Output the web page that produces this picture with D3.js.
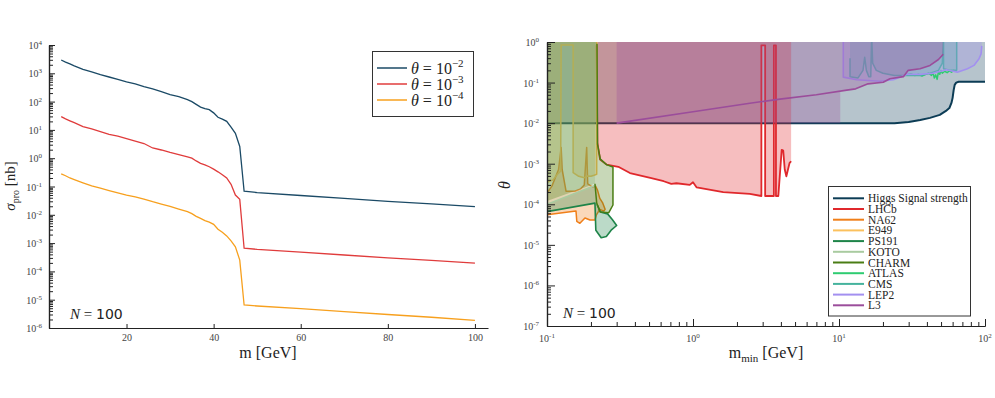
<!DOCTYPE html>
<html>
<head>
<meta charset="utf-8">
<script src="https://cdn.jsdelivr.net/npm/d3@7"></script>
<style>
  body { margin: 0; background: #fff; }
  svg text { font-family: "Liberation Serif", "DejaVu Serif", serif; }
</style>
</head>
<body>
<div id="chart"></div>
<script>
// ---------- left panel: production cross section ----------
const massPoints = [5,6,7,8,10,12,14,16,18,20,22,24,26,28,30,32,34,35,36,37,38,39,40,41,42,43,44,45,46,47,50,60,70,80,90,100];
const sigmaTheta2 = [2950,2500,2150,1820,1380,1120,890,740,615,500,420,335,280,225,178,150,118,100,80,64,56,52,40,28,24,20,12.5,7.6,2.6,0.068,0.061,0.048,0.038,0.030,0.0245,0.0195];
const sigmaTheta3 = [29.5,24.5,21,18,13,10.8,8.7,7.0,6.0,4.9,4.0,3.3,2.3,1.95,1.6,1.35,1.12,1.0,0.8,0.66,0.58,0.5,0.41,0.33,0.26,0.2,0.12,0.05,0.035,6.6e-4,6.0e-4,4.8e-4,3.8e-4,3.0e-4,2.45e-4,1.95e-4];
const sigmaTheta4 = [0.28,0.24,0.2,0.175,0.135,0.105,0.087,0.072,0.06,0.05,0.043,0.036,0.029,0.024,0.02,0.016,0.013,0.011,0.0088,0.0075,0.0062,0.0055,0.0046,0.0031,0.0024,0.0018,0.0012,7.4e-4,2.5e-4,6.5e-6,6.0e-6,4.8e-6,3.8e-6,3.0e-6,2.4e-6,1.85e-6];
const thetaExponents = ["-2", "-3", "-4"];
const massTicks = [20, 40, 60, 80, 100];

// ---------- right panel: limits on theta vs m_min ----------
const higgsLimit = [[0.1,0.01],[24,0.01],[30,0.0107],[36,0.012],[42,0.0135],[49,0.016],[54,0.02],[57,0.0235],[59,0.032],[60,0.042],[61,0.065],[62,0.088],[63.5,0.1],[66,0.105],[100,0.105]];
const lhcbLimit = [[0.219,0.83],[0.221,3.3e-3],[0.231,1.26e-3],[0.256,9.5e-4],[0.308,8.4e-4],[0.37,5.9e-4],[0.51,4.5e-4],[0.63,3.7e-4],[0.71,3.2e-4],[0.77,3.3e-4],[0.95,3.0e-4],[1.0,3.5e-4],[1.06,2.6e-4],[1.61,2.0e-4],[2.45,1.8e-4],[2.94,1.6e-4],[2.94,0.83],[3.12,0.83],[3.12,1.6e-4],[3.58,1.6e-4],[3.58,0.83],[3.7,0.83],[3.7,1.6e-4],[3.84,1.6e-4],[4.05,2.2e-3],[4.15,2.1e-3],[4.25,7.2e-4],[4.36,4.9e-4],[4.58,1.03e-3],[4.7,1.15e-3]];
const na62Region = [[0.1,1.9e-4],[0.108,2.8e-4],[0.12,7.2e-4],[0.125,2.5e-3],[0.127,7.2e-4],[0.135,2.1e-4],[0.155,2.1e-4],[0.17,2.4e-4],[0.18,3e-4],[0.187,2.5e-3],[0.19,3.2e-4],[0.205,2.7e-4],[0.215,2.8e-4],[0.222,2.2e-4],[0.23,1.4e-4],[0.24,1.1e-4],[0.25,7.5e-5],[0.245,6.8e-5],[0.23,7.5e-5],[0.218,5.5e-5],[0.213,4.1e-5],[0.197,4.1e-5],[0.182,4.6e-5],[0.168,3.4e-5],[0.16,3.8e-5],[0.158,6.8e-5],[0.1,5.5e-5]];
const e949Limit = [[0.1,3.5e-4],[0.11,4.0e-4],[0.118,5.5e-4],[0.124,6.5e-4],[0.125,0.84],[0.151,0.84],[0.151,6.0e-4],[0.165,4.9e-4],[0.18,4.5e-4],[0.19,5.0e-4],[0.2,4.9e-4],[0.21,5.2e-4],[0.219,5.5e-4],[0.219,1]];
const ps191Region = [[0.1,6.6e-5],[0.213,1.07e-4],[0.216,2.3e-5],[0.235,1.5e-5],[0.255,1.6e-5],[0.275,2.3e-5],[0.3,3.0e-5],[0.28,4.2e-5],[0.26,5.8e-5],[0.232,6.5e-5],[0.22,1.0e-4],[0.213,2.9e-4],[0.1,1.0e-4]];
const kotoLimit = [[0.1,1.0e-4],[0.213,2.9e-4]];
const charmOutline = [[0.1,1.2e-4],[0.213,3.2e-4],[0.219,1.07e-4],[0.231,6.5e-5],[0.265,6.2e-5],[0.283,9.6e-5],[0.283,8.3e-4],[0.256,9.5e-4],[0.232,1.3e-3],[0.222,3e-3],[0.22,0.9]];
const atlasLimit = [[29,0.155],[31,0.165],[33,0.15],[35,0.16],[37,0.145],[39,0.158],[41,0.17],[43,0.15],[44,0.175],[45,0.13],[46,0.155],[47,0.12],[48,0.185],[49,0.16],[50,0.2],[51,0.17],[53,0.19],[55,0.175],[57,0.195],[59,0.18],[61,0.2],[63,0.19],[64,0.2]];
const cmsLimit = [[11.9,0.4],[11.9,0.14],[13.5,0.13],[14.6,0.2],[15,0.42],[15.4,0.2],[16,0.14],[16.5,0.14],[16.7,1],[16.8,1],[17,0.3],[18,0.2],[20,0.17],[24,0.15],[30,0.15],[36,0.15],[42,0.17],[48,0.2],[51,0.3],[51.8,1],[52,1],[52,0.22],[58,0.2],[64,0.2],[64,1]];
const lep2Limit = [[10.7,1],[10.7,0.136],[13.2,0.117],[19,0.108],[23.6,0.117],[29.1,0.159],[35.9,0.159],[44,0.17],[54.5,0.206],[64.7,0.18],[75.8,0.22],[84,0.265],[91,0.385],[94,0.51],[95,0.8]];
const l3Limit = [[0.3,0.01],[1.0,0.019],[2.45,0.031],[3.94,0.039],[7,0.05],[11.3,0.065],[13,0.07],[15.8,0.093],[20.1,0.102],[22.3,0.124],[27.6,0.14],[29.8,0.2],[35.9,0.22],[42,0.265],[48,0.37],[51.8,0.5]];
const l3Cut = 10.2;
const experimentNames = ["Higgs Signal strength","LHCb","NA62","E949","PS191","KOTO","CHARM","ATLAS","CMS","LEP2","L3"];

const colors = {
  higgs: '#0c3c55', lhcb: '#e0282c', na62: '#f07f19', e949: '#fbc15e',
  ps191: '#1e8449', koto: '#a9cba0', charm: '#4a7d14', atlas: '#2ecc71',
  cms: '#45b39d', lep2: '#a390f0', l3: '#9b4d9b'
};
const lineColors = ['#1b4a66', '#e03c3c', '#f7a01e'];

const svg = d3.select('#chart').append('svg')
  .attr('width', 995)
  .attr('height', 398);

// writes "10^k" with a raised exponent
function powerLabel(sel, exp) {
  sel.append('tspan').text('10');
  sel.append('tspan').attr('dy', -4).attr('font-size', 7).text(exp);
}

function styleAxis(g) {
  g.select('.domain').attr('stroke', '#222').attr('stroke-width', 1.2);
  g.selectAll('.tick line').attr('stroke', '#222');
}

function minorTicks(lo, hi) {
  const out = [];
  for (let e = lo; e < hi; e++) {
    for (let k = 2; k <= 9; k++) out.push(k * Math.pow(10, e));
  }
  return out;
}

// ================= LEFT PANEL =================
const xL = d3.scaleLinear().domain([2.2, 103]).range([49, 488]);
const yL = d3.scaleLog().domain([1e-6, 1e4]).range([328, 45]);

const left = svg.append('g');

const sigmaLine = d3.line()
  .x((d, i) => xL(massPoints[i]))
  .y(d => yL(d));

[sigmaTheta2, sigmaTheta3, sigmaTheta4].forEach((series, i) => {
  left.append('path')
    .attr('d', sigmaLine(series))
    .attr('fill', 'none')
    .attr('stroke', lineColors[i])
    .attr('stroke-width', 1.3);
});

// axes
const lxAxis = left.append('g')
  .attr('transform', 'translate(0,328)')
  .call(d3.axisBottom(xL).tickValues(massTicks).tickSize(-4).tickSizeOuter(0).tickPadding(6));
styleAxis(lxAxis);
lxAxis.selectAll('.tick text').attr('font-size', 10).attr('fill', '#444')
  .attr('font-family', 'Liberation Serif, serif');

const lyMinor = left.append('g')
  .attr('transform', 'translate(49,0)')
  .call(d3.axisLeft(yL).tickValues(minorTicks(-6, 4)).tickSize(-4).tickSizeOuter(0).tickFormat(''));
styleAxis(lyMinor);
const lyMajor = left.append('g')
  .attr('transform', 'translate(49,0)')
  .call(d3.axisLeft(yL).tickValues(d3.range(-6, 5).map(e => Math.pow(10, e))).tickSize(-6).tickSizeOuter(0).tickFormat(''));
styleAxis(lyMajor);

d3.range(-6, 5).forEach(e => {
  left.append('text')
    .attr('x', 42).attr('y', yL(Math.pow(10, e)) + 4)
    .attr('text-anchor', 'end')
    .attr('font-size', 10).attr('fill', '#444')
    .call(powerLabel, String(e));
});

// axis titles
const lyTitle = left.append('text')
  .attr('transform', 'translate(15,186) rotate(-90)')
  .attr('text-anchor', 'middle').attr('font-size', 15).attr('fill', '#222');
lyTitle.append('tspan').attr('font-style', 'italic').text('σ');
lyTitle.append('tspan').attr('font-size', 10).attr('dy', 4).text('pro');
lyTitle.append('tspan').attr('dy', -4).text(' [nb]');

left.append('text')
  .attr('x', 268).attr('y', 358)
  .attr('text-anchor', 'middle').attr('font-size', 16).attr('fill', '#222')
  .text('m [GeV]');

// legend
left.append('rect')
  .attr('x', 372.5).attr('y', 51.5).attr('width', 101).attr('height', 65)
  .attr('fill', '#fff').attr('stroke', '#333').attr('stroke-width', 1);
thetaExponents.forEach((exp, i) => {
  const ly = 68 + i * 16;
  left.append('line')
    .attr('x1', 377).attr('x2', 407).attr('y1', ly).attr('y2', ly)
    .attr('stroke', lineColors[i]).attr('stroke-width', 1.5);
  const t = left.append('text')
    .attr('x', 411).attr('y', ly + 6)
    .attr('font-size', 16).attr('fill', '#222');
  t.append('tspan').attr('font-style', 'italic').text('θ');
  t.append('tspan').text(' = 10');
  t.append('tspan').attr('dy', -7).attr('font-size', 11).text('−' + exp.slice(1));
});

function nLabel(g, x, y) {
  const t = g.append('text').attr('x', x).attr('y', y).attr('font-size', 15).attr('fill', '#222');
  t.append('tspan').attr('font-style', 'italic').text('N');
  t.append('tspan').text(' = ');
  t.append('tspan').attr('font-family', 'DejaVu Sans, sans-serif').attr('font-size', 14).text('100');
}
nLabel(left, 70, 319);

// ================= RIGHT PANEL =================
const xR = d3.scaleLog().domain([0.1, 100]).range([547, 985]);
const yR = d3.scaleLog().domain([1e-7, 1]).range([326, 42]);

const right = svg.append('g');
svg.append('defs').append('clipPath').attr('id', 'plot-clip')
  .append('rect').attr('x', 547).attr('y', 42).attr('width', 438).attr('height', 284);
const plot = right.append('g').attr('clip-path', 'url(#plot-clip)');

const toTop = d3.area().x(d => xR(d[0])).y0(yR(1)).y1(d => yR(d[1]));
const trace = d3.line().x(d => xR(d[0])).y(d => yR(d[1]));
const closed = d3.line().x(d => xR(d[0])).y(d => yR(d[1])).curve(d3.curveLinearClosed);

const l3Upper = l3Limit.filter(d => d[0] > l3Cut);
const l3Region = [l3Limit[0], [l3Cut, l3Limit[0][1]], [l3Cut, l3Upper[0][1]], ...l3Upper,
  [l3Upper[l3Upper.length - 1][0], 1], [l3Limit[0][0], 1]];
const charmRegion = [[charmOutline[0][0], 1], ...charmOutline, [charmOutline[charmOutline.length - 1][0], 1]];

const layers = [
  { fill: toTop(higgsLimit), line: trace(higgsLimit), color: colors.higgs, width: 2 },
  { fill: toTop(lhcbLimit), line: trace(lhcbLimit), color: colors.lhcb, width: 1.8 },
  { fill: closed(na62Region), line: closed(na62Region), color: colors.na62, width: 1.5 },
  { fill: toTop(e949Limit), line: trace(e949Limit), color: colors.e949, width: 1.5 },
  { fill: closed(ps191Region), line: trace(ps191Region.slice(0, -2)), color: colors.ps191, width: 1.6 },
  { fill: toTop(kotoLimit), line: trace(kotoLimit), color: colors.koto, width: 1.5 },
  { fill: closed(charmRegion), line: trace(charmOutline.slice(1)), color: colors.charm, width: 1.5 },
  { fill: null, line: trace(atlasLimit), color: colors.atlas, width: 1.5 },
  { fill: toTop(cmsLimit), line: trace(cmsLimit), color: colors.cms, width: 1.5 },
  { fill: toTop(lep2Limit), line: trace(lep2Limit), color: colors.lep2, width: 1.6 },
  { fill: closed(l3Region), line: trace(l3Limit), color: colors.l3, width: 1.6 }
];

layers.forEach(layer => {
  if (layer.fill) {
    plot.append('path').attr('d', layer.fill)
      .attr('fill', layer.color).attr('fill-opacity', 0.3).attr('stroke', 'none');
  }
  plot.append('path').attr('d', layer.line)
    .attr('fill', 'none').attr('stroke', layer.color)
    .attr('stroke-width', layer.width).attr('stroke-linejoin', 'round');
});

// axes
const rxMinor = right.append('g').attr('transform', 'translate(0,326)')
  .call(d3.axisBottom(xR).tickValues(minorTicks(-1, 2)).tickSize(-4).tickSizeOuter(0).tickFormat(''));
styleAxis(rxMinor);
const rxMajor = right.append('g').attr('transform', 'translate(0,326)')
  .call(d3.axisBottom(xR).tickValues([0.1, 1, 10, 100]).tickSize(-7).tickSizeOuter(0).tickFormat(''));
styleAxis(rxMajor);
[-1, 0, 1, 2].forEach(e => {
  right.append('text')
    .attr('x', xR(Math.pow(10, e))).attr('y', 342)
    .attr('text-anchor', 'middle').attr('font-size', 10).attr('fill', '#444')
    .call(powerLabel, String(e));
});

const ryMinor = right.append('g').attr('transform', 'translate(547,0)')
  .call(d3.axisLeft(yR).tickValues(minorTicks(-7, 0)).tickSize(-4).tickSizeOuter(0).tickFormat(''));
styleAxis(ryMinor);
const ryMajor = right.append('g').attr('transform', 'translate(547,0)')
  .call(d3.axisLeft(yR).tickValues(d3.range(-7, 1).map(e => Math.pow(10, e))).tickSize(-8).tickSizeOuter(0).tickFormat(''));
styleAxis(ryMajor);
d3.range(-7, 1).forEach(e => {
  right.append('text')
    .attr('x', 539).attr('y', yR(Math.pow(10, e)) + 4)
    .attr('text-anchor', 'end').attr('font-size', 10).attr('fill', '#444')
    .call(powerLabel, String(e));
});

right.append('text')
  .attr('transform', 'translate(510,185) rotate(-90)')
  .attr('text-anchor', 'middle').attr('font-size', 16).attr('font-style', 'italic').attr('fill', '#222')
  .text('θ');

const rxTitle = right.append('text')
  .attr('x', 766).attr('y', 358)
  .attr('text-anchor', 'middle').attr('font-size', 16).attr('fill', '#222');
rxTitle.append('tspan').text('m');
rxTitle.append('tspan').attr('font-size', 11).attr('dy', 4).text('min');
rxTitle.append('tspan').attr('dy', -4).text(' [GeV]');

nLabel(right, 563, 318);

// legend
right.append('rect')
  .attr('x', 828.5).attr('y', 186.5).attr('width', 142).attr('height', 129.5)
  .attr('fill', '#fff').attr('stroke', '#333').attr('stroke-width', 1);
const legendColors = [colors.higgs, colors.lhcb, colors.na62, colors.e949, colors.ps191, colors.koto,
  colors.charm, colors.atlas, colors.cms, colors.lep2, colors.l3];
experimentNames.forEach((name, i) => {
  const ly = 198.3 + i * 10.7;
  right.append('line')
    .attr('x1', 833).attr('x2', 864).attr('y1', ly).attr('y2', ly)
    .attr('stroke', legendColors[i]).attr('stroke-width', 2);
  right.append('text')
    .attr('x', 868).attr('y', ly + 4)
    .attr('font-size', 11.5).attr('fill', '#222')
    .text(name);
});
</script>
</body>
</html>
